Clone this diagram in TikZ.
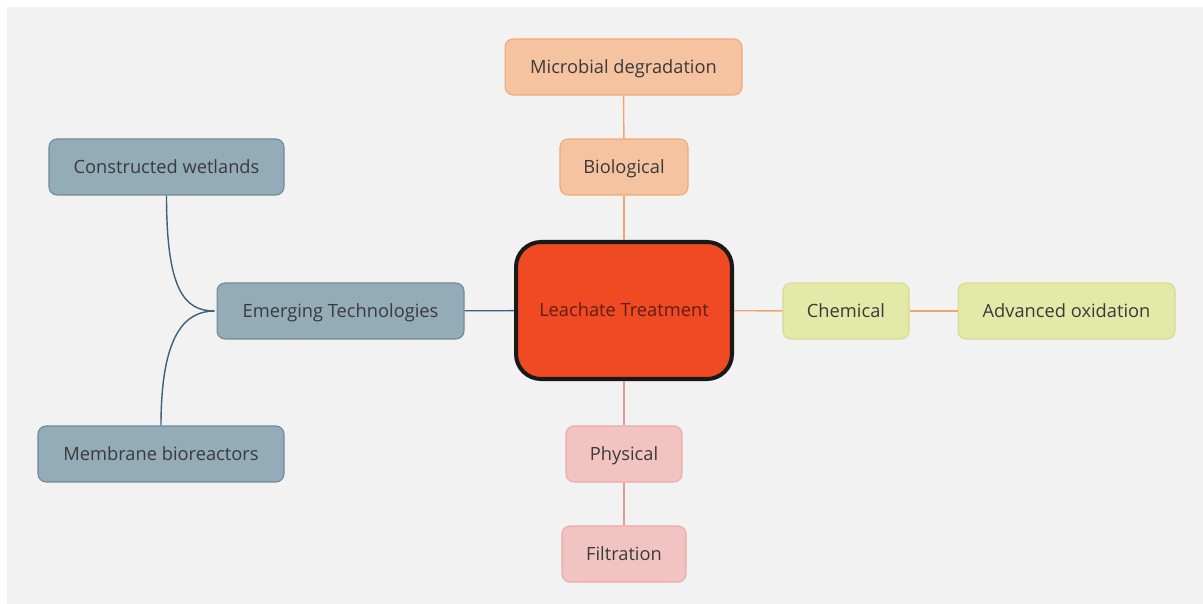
\documentclass[tikz,border=0pt]{standalone}
\usepackage{fontspec}
\setmainfont{Open Sans}
\usepackage{tikz}

\definecolor{bgc}{HTML}{F2F2F2}
\definecolor{orfill}{HTML}{F6C3A0}
\definecolor{ordraw}{HTML}{F0A878}
\definecolor{orline}{HTML}{F2A46E}
\definecolor{grfill}{HTML}{E3EAA8}
\definecolor{grdraw}{HTML}{DCD68E}
\definecolor{pkfill}{HTML}{F2C4C1}
\definecolor{pkdraw}{HTML}{EBA9A5}
\definecolor{pkline}{HTML}{E49C92}
\definecolor{blfill}{HTML}{94ACB8}
\definecolor{bldraw}{HTML}{6E8897}
\definecolor{blline}{HTML}{3C6179}
\definecolor{corefill}{HTML}{F04A25}
\definecolor{txt}{HTML}{3A3A3A}

\begin{document}
\begin{tikzpicture}[x=0.02cm, y=-0.02cm, font=\fontsize{10.4}{12}\selectfont,
  box/.style={rectangle, rounded corners=0.16cm, line width=0.6pt, minimum height=1.12cm, inner sep=0pt, text=txt,
    text height=1.35ex, text depth=0pt},
  orbox/.style={box, draw=ordraw, fill=orfill},
  grbox/.style={box, draw=grdraw, fill=grfill},
  pkbox/.style={box, draw=pkdraw, fill=pkfill},
  blbox/.style={box, draw=bldraw, fill=blfill},
  core/.style={rectangle, rounded corners=0.5cm, draw=black!90, line width=2.3pt, fill=corefill,
    minimum width=4.32cm, minimum height=2.74cm, text=black!60!corefill, text height=1.35ex, text depth=0pt},
  orline/.style={draw=orline, line width=0.8pt},
  pkline/.style={draw=pkline, line width=0.8pt},
  blline/.style={draw=blline, line width=0.8pt}
]
  \useasboundingbox (0,0) rectangle (1203,604);
  \fill[bgc] (7,7) rectangle (1203,604);
  % ===== centre =====
  \node[core] (lt) at (624,310.5) {Leachate Treatment};
  % ===== top branch =====
  \node[orbox, minimum width=4.74cm] (micro) at (623.5,67) {Microbial degradation};
  \node[orbox, minimum width=2.56cm] (bio) at (624,167) {Biological};
  % ===== right branch =====
  \node[grbox, minimum width=2.52cm] (chem) at (846,311) {Chemical};
  \node[grbox, minimum width=4.34cm] (aox) at (1066.5,311) {Advanced oxidation};
  % ===== bottom branch =====
  \node[pkbox, minimum width=2.32cm] (phys) at (624,454) {Physical};
  \node[pkbox, minimum width=2.48cm] (filt) at (624,554) {Filtration};
  % ===== left branch =====
  \node[blbox, minimum width=4.94cm] (emt) at (340.5,311) {Emerging Technologies};
  \node[blbox, minimum width=4.70cm] (wet) at (166.5,167) {Constructed wetlands};
  \node[blbox, minimum width=4.92cm] (mbr) at (161,454) {Membrane bioreactors};
  \coordinate (join) at ([xshift=-0.04cm]emt.west);
  % ===== connectors =====
  \draw[orline] (bio) -- (micro);
  \draw[orline] (lt) -- (bio);
  \draw[orline] (lt) -- (chem);
  \draw[orline] (chem) -- (aox);
  \draw[pkline] (lt) -- (phys);
  \draw[pkline] (phys) -- (filt);
  \draw[blline] (lt) -- (emt);
  \draw[blline] (wet.south) .. controls ([yshift=-1.9cm]wet.south) and ([xshift=-0.6cm]join) .. (join);
  \draw[blline] (mbr.north) .. controls ([yshift=1.8cm]mbr.north) and ([xshift=-0.6cm]join) .. (join);
\end{tikzpicture}
\end{document}
